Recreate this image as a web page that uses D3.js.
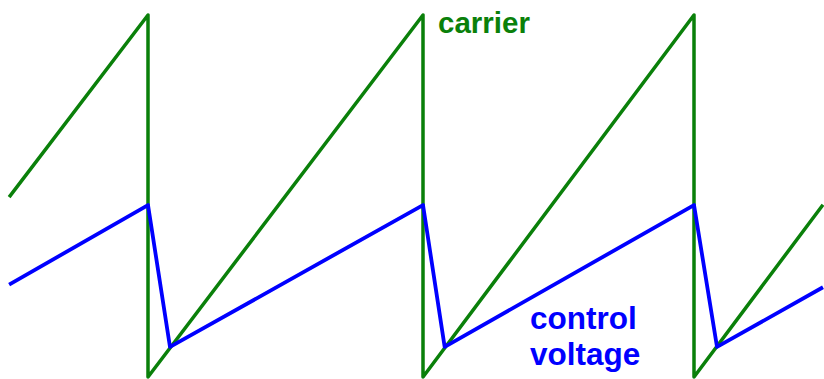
<!DOCTYPE html>
<html>
<head>
<meta charset="utf-8">
<script src="https://cdn.jsdelivr.net/npm/d3@7"></script>
<style>
  body { margin: 0; background: #fff; }
  text { font-family: "Liberation Sans", Arial, sans-serif; font-weight: bold; }
</style>
</head>
<body>
<svg id="chart" width="824" height="379"></svg>
<script>
// thời gian tính theo chu kỳ sóng mang, giá trị chuẩn hoá 0..1
const carrierT = [0.495, 1, 1, 2, 2, 3, 3, 3.476];
const carrierV = [0.497, 1, 0, 1, 0, 1, 0, 0.476];

const controlT = [0.495, 1, 1.08, 2, 2.08, 3, 3.085, 3.476];
const controlV = [0.255, 0.475, 0.083, 0.475, 0.083, 0.475, 0.083, 0.248];

const labels = ["carrier", "control", "voltage"];

const carrier = carrierT.map((t, i) => ({t: t, v: carrierV[i]}));
const control = controlT.map((t, i) => ({t: t, v: controlV[i]}));

const svg = d3.select("#chart");

// trục x: các lần reset tại x=148, 423, 694
const x = d3.scaleLinear().domain([1, 2, 3]).range([148, 423, 694]);
const y = d3.scaleLinear().domain([0, 1]).range([377, 15]);

const line = d3.line()
  .x(d => x(d.t))
  .y(d => y(d.v));

// Sóng mang (xanh lá)
svg.append("path")
  .datum(carrier)
  .attr("d", line)
  .attr("fill", "none")
  .attr("stroke", "#0a800a")
  .attr("stroke-width", 3.5)
  .attr("stroke-linejoin", "round");

// Điện áp điều khiển (xanh dương)
svg.append("path")
  .datum(control)
  .attr("d", line)
  .attr("fill", "none")
  .attr("stroke", "#0000ff")
  .attr("stroke-width", 3.8)
  .attr("stroke-linejoin", "round");

// Nhãn
svg.append("text")
  .attr("x", 438)
  .attr("y", 33)
  .style("font-size", "29.5px")
  .attr("fill", "#0a800a")
  .text(labels[0]);

svg.append("text")
  .attr("x", 530)
  .attr("y", 329)
  .style("font-size", "31.5px")
  .attr("fill", "#0000ff")
  .text(labels[1]);

svg.append("text")
  .attr("x", 530)
  .attr("y", 365)
  .style("font-size", "31.5px")
  .attr("fill", "#0000ff")
  .text(labels[2]);
</script>
</body>
</html>
